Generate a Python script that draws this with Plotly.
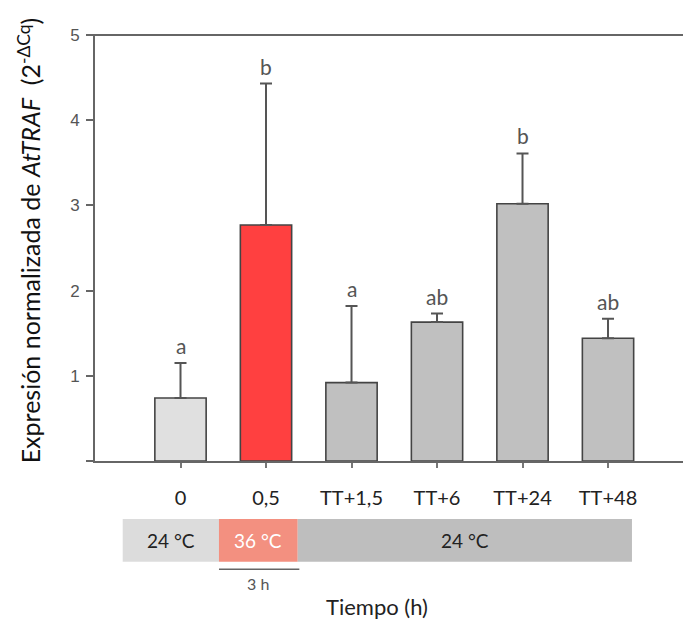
import plotly.graph_objects as go

categories = ["0", "0,5", "TT+1,5", "TT+6", "TT+24", "TT+48"]
values = [0.74, 2.77, 0.92, 1.63, 3.02, 1.44]
errors = [0.41, 1.66, 0.90, 0.10, 0.59, 0.23]
letters = ["a", "b", "a", "ab", "b", "ab"]
bar_colors = ["#E0E0E0", "#FF4040", "#C0C0C0", "#C0C0C0", "#C0C0C0", "#C0C0C0"]

y_ticks = [0, 1, 2, 3, 4, 5]
y_ticktext = ["", "1", "2", "3", "4", "5"]

# temperature band segments: (label, start, end, fill, text colour) in x-axis units
band = [
    ("24 °C", -0.676, 0.45, "#DCDCDC", "#222222"),
    ("36 °C", 0.45, 1.371, "#F39080", "#FFFFFF"),
    ("24 °C", 1.371, 5.28, "#BEBEBE", "#222222"),
]

FONT = "Lato"
xs = list(range(len(categories)))

fig = go.Figure()
fig.add_trace(go.Bar(
    x=xs, y=values, width=0.6,
    marker=dict(color=bar_colors, line=dict(color="#444444", width=1.6)),
    error_y=dict(type="data", array=errors, symmetric=False, arrayminus=[0]*6,
                 color="#555555", thickness=2, width=6),
    showlegend=False, hoverinfo="skip",
))

for i, (v, e, t) in enumerate(zip(values, errors, letters)):
    fig.add_annotation(x=i, y=v + e, text=t, showarrow=False, yanchor="bottom", yshift=3,
                       font=dict(family=FONT, size=21, color="#555555"))

band_y0, band_y1 = -0.2364, -0.136
for lab, x0, x1, col, tcol in band:
    fig.add_shape(type="rect", xref="x", yref="paper", x0=x0, x1=x1, y0=band_y0, y1=band_y1,
                  fillcolor=col, line=dict(width=0), layer="above")
    fig.add_annotation(xref="x", yref="paper", x=(x0 + x1) / 2, y=(band_y0 + band_y1) / 2,
                       text=lab, showarrow=False, xanchor="center", yanchor="middle",
                       font=dict(family=FONT, size=19, color=tcol))

# 3 h bracket under heat segment
fig.add_shape(type="line", xref="x", yref="paper", x0=0.45, x1=1.39, y0=-0.2544, y1=-0.2544,
              line=dict(color="#666666", width=1.5))
fig.add_annotation(xref="x", yref="paper", x=0.91, y=-0.2875, text="3 h", showarrow=False,
                   xanchor="center", yanchor="middle",
                   font=dict(family=FONT, size=16, color="#555555"))
fig.add_annotation(xref="paper", yref="paper", x=(376.7 - 95) / 588, y=-0.3427, text="Tiempo (h)",
                   showarrow=False, xanchor="center", yanchor="middle",
                   font=dict(family=FONT, size=22, color="#222222"))

# y-axis title
fig.add_annotation(xref="paper", yref="paper", x=(29 - 95) / 588, y=0.518,
                   text="Expresión normalizada de <i>AtTRAF</i>  (2<sup>-ΔCq</sup>)",
                   textangle=-90, showarrow=False, xanchor="center", yanchor="middle",
                   font=dict(family=FONT, size=25, color="#111111"))

# top border line
fig.add_shape(type="line", xref="paper", yref="paper", x0=-7 / 588, x1=1, y0=1, y1=1,
              line=dict(color="#666666", width=2))

fig.update_layout(
    width=683, height=621,
    margin=dict(l=95, r=0, t=35, b=160),
    plot_bgcolor="white", paper_bgcolor="white",
    xaxis=dict(range=[-1, 5.877], tickvals=xs, ticktext=categories,
               showline=True, linecolor="#666666", linewidth=2,
               ticks="outside", ticklen=5, tickwidth=2, tickcolor="#777777",
               ticklabelstandoff=13,
               tickfont=dict(family=FONT, size=20, color="#222222"),
               showgrid=False, zeroline=False),
    yaxis=dict(range=[0, 5], tickvals=y_ticks, ticktext=y_ticktext,
               showline=True, linecolor="#666666", linewidth=2,
               ticks="outside", ticklen=7, tickwidth=2, tickcolor="#666666",
               ticklabelstandoff=3,
               tickfont=dict(family="Liberation Sans", size=17, color="#555555"),
               showgrid=False, zeroline=False),
)

fig.write_html("out.html")
